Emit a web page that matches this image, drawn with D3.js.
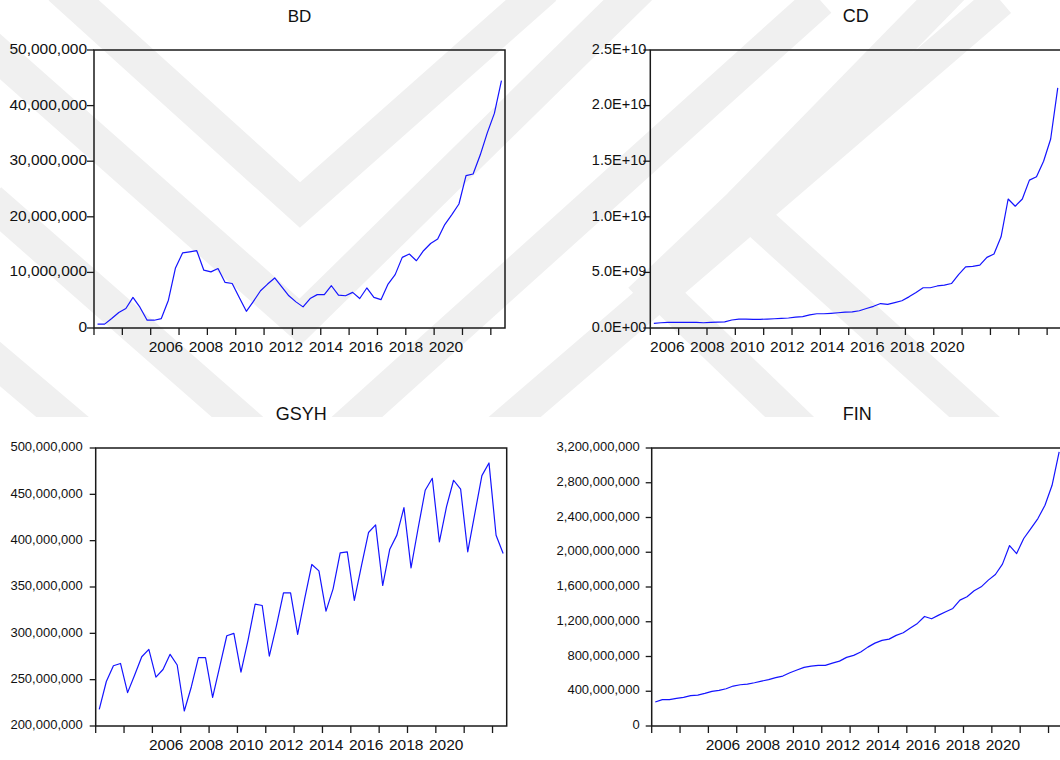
<!DOCTYPE html>
<html>
<head>
<meta charset="utf-8">
<script src="https://cdn.jsdelivr.net/npm/d3@7"></script>
<style>
  html, body { margin: 0; padding: 0; background: #fff; }
  svg { display: block; }
  text { font-family: "Liberation Sans", Arial, sans-serif; fill: #111; }
</style>
</head>
<body>
<svg id="chart" width="1060" height="760"></svg>
<script>
// Quarterly observations (58 periods)
const observations = d3.range(58);
const yearLabels = ["2006", "2008", "2010", "2012", "2014", "2016", "2018", "2020"];

// BD
const bdValues = [
  0.7e6, 0.7e6, 1.7e6, 2.8e6, 3.5e6, 5.5e6, 3.7e6, 1.4e6, 1.4e6, 1.7e6,
  5.0e6, 10.8e6, 13.5e6, 13.7e6, 13.9e6, 10.4e6, 10.1e6, 10.7e6, 8.2e6, 8.0e6,
  5.5e6, 3.0e6, 4.8e6, 6.7e6, 7.9e6, 9.0e6, 7.4e6, 5.8e6, 4.7e6, 3.8e6,
  5.3e6, 6.0e6, 6.0e6, 7.6e6, 5.9e6, 5.8e6, 6.4e6, 5.3e6, 7.2e6, 5.5e6,
  5.1e6, 7.9e6, 9.6e6, 12.7e6, 13.3e6, 12.1e6, 13.9e6, 15.2e6, 16.0e6, 18.6e6,
  20.4e6, 22.3e6, 27.4e6, 27.7e6, 31.1e6, 35.1e6, 38.6e6, 44.5e6
];
const bdTicks = [0, 10e6, 20e6, 30e6, 40e6, 50e6];

// CD
const cdValues = [
  0.42e9, 0.47e9, 0.50e9, 0.50e9, 0.50e9, 0.50e9, 0.50e9, 0.47e9, 0.50e9, 0.52e9,
  0.55e9, 0.72e9, 0.80e9, 0.80e9, 0.77e9, 0.78e9, 0.80e9, 0.83e9, 0.87e9, 0.90e9,
  0.98e9, 1.03e9, 1.18e9, 1.28e9, 1.28e9, 1.32e9, 1.37e9, 1.42e9, 1.45e9, 1.55e9,
  1.75e9, 1.95e9, 2.20e9, 2.12e9, 2.28e9, 2.45e9, 2.80e9, 3.20e9, 3.62e9, 3.62e9,
  3.78e9, 3.85e9, 4.00e9, 4.80e9, 5.50e9, 5.55e9, 5.65e9, 6.35e9, 6.65e9, 8.20e9,
  11.6e9, 10.95e9, 11.6e9, 13.3e9, 13.6e9, 15.0e9, 17.0e9, 21.6e9
];
const cdTicks = [0, 5e9, 10e9, 15e9, 20e9, 25e9];

// GSYH
const gsyhValues = [
  218e6, 248e6, 265e6, 267.5e6, 236e6, 255e6, 274.7e6, 282.6e6, 252.8e6, 261e6,
  277.3e6, 265.8e6, 216.2e6, 242.4e6, 273.7e6, 273.7e6, 230.9e6, 264e6, 297.4e6, 300e6,
  258.2e6, 292.7e6, 331.5e6, 330e6, 275.5e6, 308e6, 343.7e6, 343.7e6, 298.8e6, 337.6e6,
  374.3e6, 367.4e6, 324e6, 348e6, 386.8e6, 388e6, 335.5e6, 372.8e6, 408.8e6, 417e6,
  351.6e6, 390.8e6, 406e6, 435.7e6, 370.7e6, 413.4e6, 454.4e6, 467.3e6, 398.7e6, 436.4e6,
  465.2e6, 455.5e6, 388e6, 429.2e6, 470.2e6, 483.9e6, 405.9e6, 386.1e6
];
const gsyhTicks = [200e6, 250e6, 300e6, 350e6, 400e6, 450e6, 500e6];

// FIN
const finValues = [
  276e6, 303e6, 303e6, 318e6, 330e6, 349e6, 356e6, 376e6, 399e6, 410e6,
  429e6, 460e6, 475e6, 483e6, 498e6, 517e6, 533e6, 556e6, 575e6, 613e6,
  644e6, 675e6, 690e6, 698e6, 698e6, 724e6, 747e6, 790e6, 813e6, 851e6,
  908e6, 954e6, 985e6, 1000e6, 1043e6, 1073e6, 1127e6, 1181e6, 1261e6, 1234e6,
  1276e6, 1315e6, 1353e6, 1449e6, 1487e6, 1556e6, 1602e6, 1679e6, 1744e6, 1863e6,
  2077e6, 1985e6, 2158e6, 2273e6, 2388e6, 2541e6, 2771e6, 3154e6
];
const finTicks = [0, 400e6, 800e6, 1200e6, 1600e6, 2000e6, 2400e6, 2800e6, 3200e6];

// Number formats
const commaFmt = d3.format(",");
const sciFmt = v => {
  if (v === 0) return "0.0E+00";
  const e = Math.floor(Math.log10(v));
  const m = v / Math.pow(10, e);
  return m.toFixed(1) + "E+" + String(e).padStart(2, "0");
};

const PLOT_W = 411, PLOT_H = 278;

const panels = [
  { title: "BD", values: bdValues, ticks: bdTicks, fmt: commaFmt, domain: [0, 50e6],
    left: 94, top: 50, titleSize: 17, yFont: 15.5, tickLen: 7, labelGap: 0, xLabelStart: 72 },
  { title: "CD", values: cdValues, ticks: cdTicks, fmt: sciFmt, domain: [0, 25e9],
    left: 650.3, top: 50, titleSize: 18, yFont: 14.5, tickLen: 7, labelGap: -3, xLabelStart: 17 },
  { title: "GSYH", values: gsyhValues, ticks: gsyhTicks, fmt: commaFmt, domain: [200e6, 500e6],
    left: 95.7, top: 448, titleSize: 18, yFont: 13, tickLen: 6, labelGap: 7, xLabelStart: 70.5 },
  { title: "FIN", values: finValues, ticks: finTicks, fmt: commaFmt, domain: [0, 3200e6],
    left: 651.7, top: 448, titleSize: 18, yFont: 13, tickLen: 6, labelGap: 6, xLabelStart: 71.3 }
];

const svg = d3.select("#chart");

// Faint chevron watermark printed behind the upper charts
const wm = svg.append("g").attr("class", "watermark");
wm.append("clipPath").attr("id", "wm-clip")
  .append("rect").attr("x", 0).attr("y", 0).attr("width", 1060).attr("height", 417);
const wmBands = wm.append("g").attr("clip-path", "url(#wm-clip)")
  .attr("fill", "none").attr("stroke", "#f0f0f0").attr("stroke-width", 34)
  .attr("stroke-linejoin", "miter");
[
  "M60,-12 L300,205 L545,-12",
  "M-30,30 L300,322 L640,-12",
  "M-10,200 L298,470 L820,0",
  "M-40,330 L290,610 L1000,0",
  "M640,300 L740,205 L960,-20",
  "M740,205 L1000,440",
  "M660,292 L1000,620"
].forEach(d => wmBands.append("path").attr("d", d));

panels.forEach(p => {
  const g = svg.append("g").attr("transform", `translate(${p.left},${p.top})`);

  const x = d3.scaleBand().domain(observations).range([0, PLOT_W]).padding(0);
  const y = d3.scaleLinear().domain(p.domain).range([PLOT_H, 0]);
  const cx = i => x(i) + x.bandwidth() / 2;

  // Title
  g.append("text")
    .attr("x", PLOT_W / 2)
    .attr("y", -28)
    .attr("text-anchor", "middle")
    .style("font-size", p.titleSize + "px")
    .text(p.title);

  // Series line
  const line = d3.line()
    .x((d, i) => cx(observations[i]))
    .y(d => y(d));
  g.append("path")
    .datum(p.values)
    .attr("fill", "none")
    .attr("stroke", "#1414ff")
    .attr("stroke-width", 1.2)
    .attr("stroke-linejoin", "round")
    .attr("d", line);

  // Frame
  g.append("rect")
    .attr("x", 0).attr("y", 0)
    .attr("width", PLOT_W).attr("height", PLOT_H)
    .attr("fill", "none")
    .attr("stroke", "#1a1a1a")
    .attr("stroke-width", 1.5);

  // Y axis ticks and labels
  const yAxis = g.append("g");
  yAxis.selectAll("line")
    .data(p.ticks).join("line")
    .attr("x1", -p.tickLen).attr("x2", 0)
    .attr("y1", d => y(d)).attr("y2", d => y(d))
    .attr("stroke", "#1a1a1a").attr("stroke-width", 1.3);
  yAxis.selectAll("text")
    .data(p.ticks).join("text")
    .attr("x", -p.tickLen - p.labelGap)
    .attr("y", d => y(d) + p.yFont * 0.36 - 1.5)
    .attr("text-anchor", "end")
    .style("font-size", p.yFont + "px")
    .text(d => p.fmt(d));

  // X axis ticks every four quarters
  const tickObs = observations.filter(i => i % 4 === 0);
  g.append("g").selectAll("line")
    .data(tickObs).join("line")
    .attr("x1", d => x(d)).attr("x2", d => x(d))
    .attr("y1", PLOT_H).attr("y2", PLOT_H + 7)
    .attr("stroke", "#1a1a1a").attr("stroke-width", 1.3);

  // Year labels
  const lx = d3.scaleLinear().domain([0, yearLabels.length - 1])
    .range([p.xLabelStart, p.xLabelStart + 40 * (yearLabels.length - 1)]);
  g.append("g").selectAll("text")
    .data(yearLabels).join("text")
    .attr("x", (d, i) => lx(i))
    .attr("y", PLOT_H + 24)
    .attr("text-anchor", "middle")
    .style("font-size", "15.5px")
    .text(d => d);
});
</script>
</body>
</html>
